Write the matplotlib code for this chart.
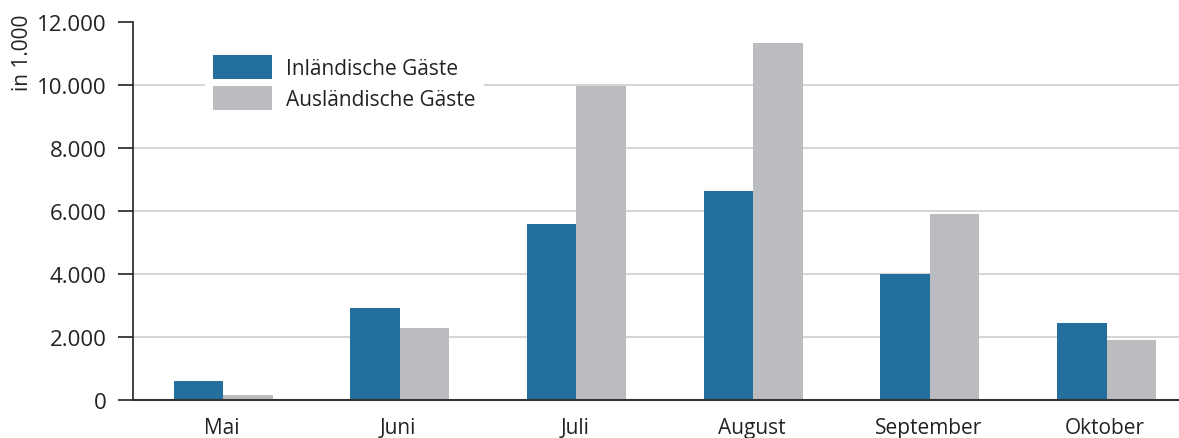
import matplotlib.pyplot as plt
import numpy as np

plt.rcParams['font.family'] = ['Open Sans', 'DejaVu Sans']

monate = ["Mai", "Juni", "Juli", "August", "September", "Oktober"]
inland = [600, 2920, 5590, 6630, 4000, 2440]
ausland = [160, 2290, 9970, 11330, 5900, 1900]
yticks = [0, 2000, 4000, 6000, 8000, 10000, 12000]
ytick_labels = ["0", "2.000", "4.000", "6.000", "8.000", "10.000", "12.000"]

blau = "#23709d"
grau = "#bbbcc0"

fig = plt.figure(figsize=(11.79, 4.39), dpi=100)
ax = fig.add_axes([0.1128, 0.0866, 0.8872, 0.861])

x = np.arange(len(monate))
w = 0.28
ax.bar(x - w / 2 + 0.01, inland, w, color=blau, label="Inländische Gäste", zorder=3)
ax.bar(x + w / 2 + 0.01, ausland, w, color=grau, label="Ausländische Gäste", zorder=3)

ax.set_xlim(-0.5, 5.42)
ax.set_ylim(0, 12000)
ax.set_yticks(yticks)
ax.set_yticklabels(ytick_labels, fontsize=16, color="#222222")
ax.set_xticks(x)
ax.set_xticklabels(monate, fontsize=15, color="#222222")
ax.tick_params(axis="x", length=0, pad=12)
ax.tick_params(axis="y", length=11, width=1.2, color="#222222", pad=8)

# Gitterlinien ohne die oberste bei 12.000
for v in yticks[1:-1]:
    ax.axhline(v, color="#d6d6d6", linewidth=1.5, zorder=0)

for s in ["top", "right"]:
    ax.spines[s].set_visible(False)
ax.spines["left"].set_color("#222222")
ax.spines["left"].set_linewidth(1.2)
ax.spines["bottom"].set_color("#333333")
ax.spines["bottom"].set_linewidth(1.5)
ax.spines["bottom"].set_zorder(4)

fig.text(0.019, 0.88, "in 1.000", rotation=90, fontsize=15, color="#222222",
         ha="center", va="center")

leg = ax.legend(loc="upper left", bbox_to_anchor=(0.165, 0.916), bbox_transform=fig.transFigure,
                frameon=True, facecolor="white", edgecolor="none", framealpha=1,
                fontsize=15, handlelength=2.8, handleheight=1.4, labelspacing=0.35,
                handletextpad=0.7, borderpad=0.4, fancybox=False)
for t in leg.get_texts():
    t.set_color("#222222")

fig.savefig("out.png", dpi=100)
